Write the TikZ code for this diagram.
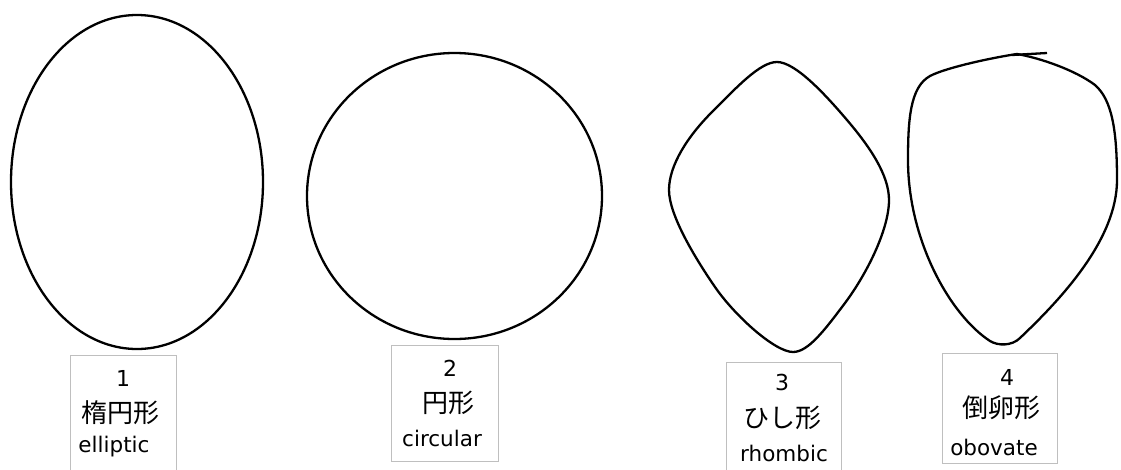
\documentclass[tikz,border=0pt]{standalone}
\usepackage{fontspec}
\newfontfamily\cjk{Noto Sans CJK JP}
\newfontfamily\lat{DejaVu Sans}
\begin{document}
\begin{tikzpicture}[x=1pt,y=-1pt,
  outline/.style={line width=2.3pt,black,line join=round},
  labelbox/.style={draw=black!25,line width=0.9pt,fill=none,inner sep=0pt},
  numtxt/.style={font=\lat\fontsize{22}{22}\selectfont,inner sep=0pt},
  jtxt/.style={font=\cjk\fontsize{26}{26}\selectfont,inner sep=0pt},
  etxt/.style={font=\lat\fontsize{21.5}{21.5}\selectfont,inner sep=0pt}]
\useasboundingbox (0,0) rectangle (1121,469);
% shape 1: elliptic
\draw[outline] (137,182) ellipse [x radius=126pt, y radius=167pt];
% shape 2: circular
\draw[outline] (454.5,196) ellipse [x radius=147.5pt, y radius=143pt];
% shape 3: rhombic
\draw[outline] (777,62) .. controls (795,62) and (824,93) .. (847,120)
  .. controls (870,147) and (889,175) .. (889,200)
  .. controls (889,230) and (866,275) .. (845,303)
  .. controls (824,331) and (808,352) .. (793,352)
  .. controls (775,352) and (735,316) .. (715,287)
  .. controls (695,258) and (669,215) .. (669,190)
  .. controls (669,165) and (688,136) .. (712,112)
  .. controls (737,87) and (760,62) .. cycle;
% shape 4: obovate
\draw[outline] (1017,54) .. controls (990,58) and (945,68) .. (930,76)
  .. controls (910,87) and (908,120) .. (908,160)
  .. controls (908,240) and (950,315) .. (990,341)
  .. controls (998,346) and (1012,346) .. (1020,338)
  .. controls (1060,300) and (1117,240) .. (1117,180)
  .. controls (1117,130) and (1112,100) .. (1095,85)
  .. controls (1075,70) and (1040,58) .. cycle;
\draw[outline] (1012,55) -- (1047,53);
% label boxes
\node[labelbox,minimum width=106pt,minimum height=125pt] (box1) at (123,417.5) {};
\node[labelbox,minimum width=107pt,minimum height=116pt] (box2) at (444.5,403) {};
\node[labelbox,minimum width=115pt,minimum height=125pt] (box3) at (783.5,424.5) {};
\node[labelbox,minimum width=115pt,minimum height=110pt] (box4) at (999.5,408) {};
% texts box 1
\node[numtxt] (n1) at (123,378) {1};
\node[jtxt] (j1) at (120,413) {楕円形};
\node[etxt] (e1) at (114,447) {elliptic};
% texts box 2
\node[numtxt] (n2) at (450,368) {2};
\node[jtxt] (j2) at (448,403) {円形};
\node[etxt] (e2) at (442,438) {circular};
% texts box 3
\node[numtxt] (n3) at (782,382) {3};
\node[jtxt] (j3) at (782,418) {ひし形};
\node[etxt] (e3) at (784,453) {rhombic};
% texts box 4
\node[numtxt] (n4) at (1007,377) {4};
\node[jtxt] (j4) at (1001,408) {倒卵形};
\node[etxt] (e4) at (994,447) {obovate};
\end{tikzpicture}
\end{document}
